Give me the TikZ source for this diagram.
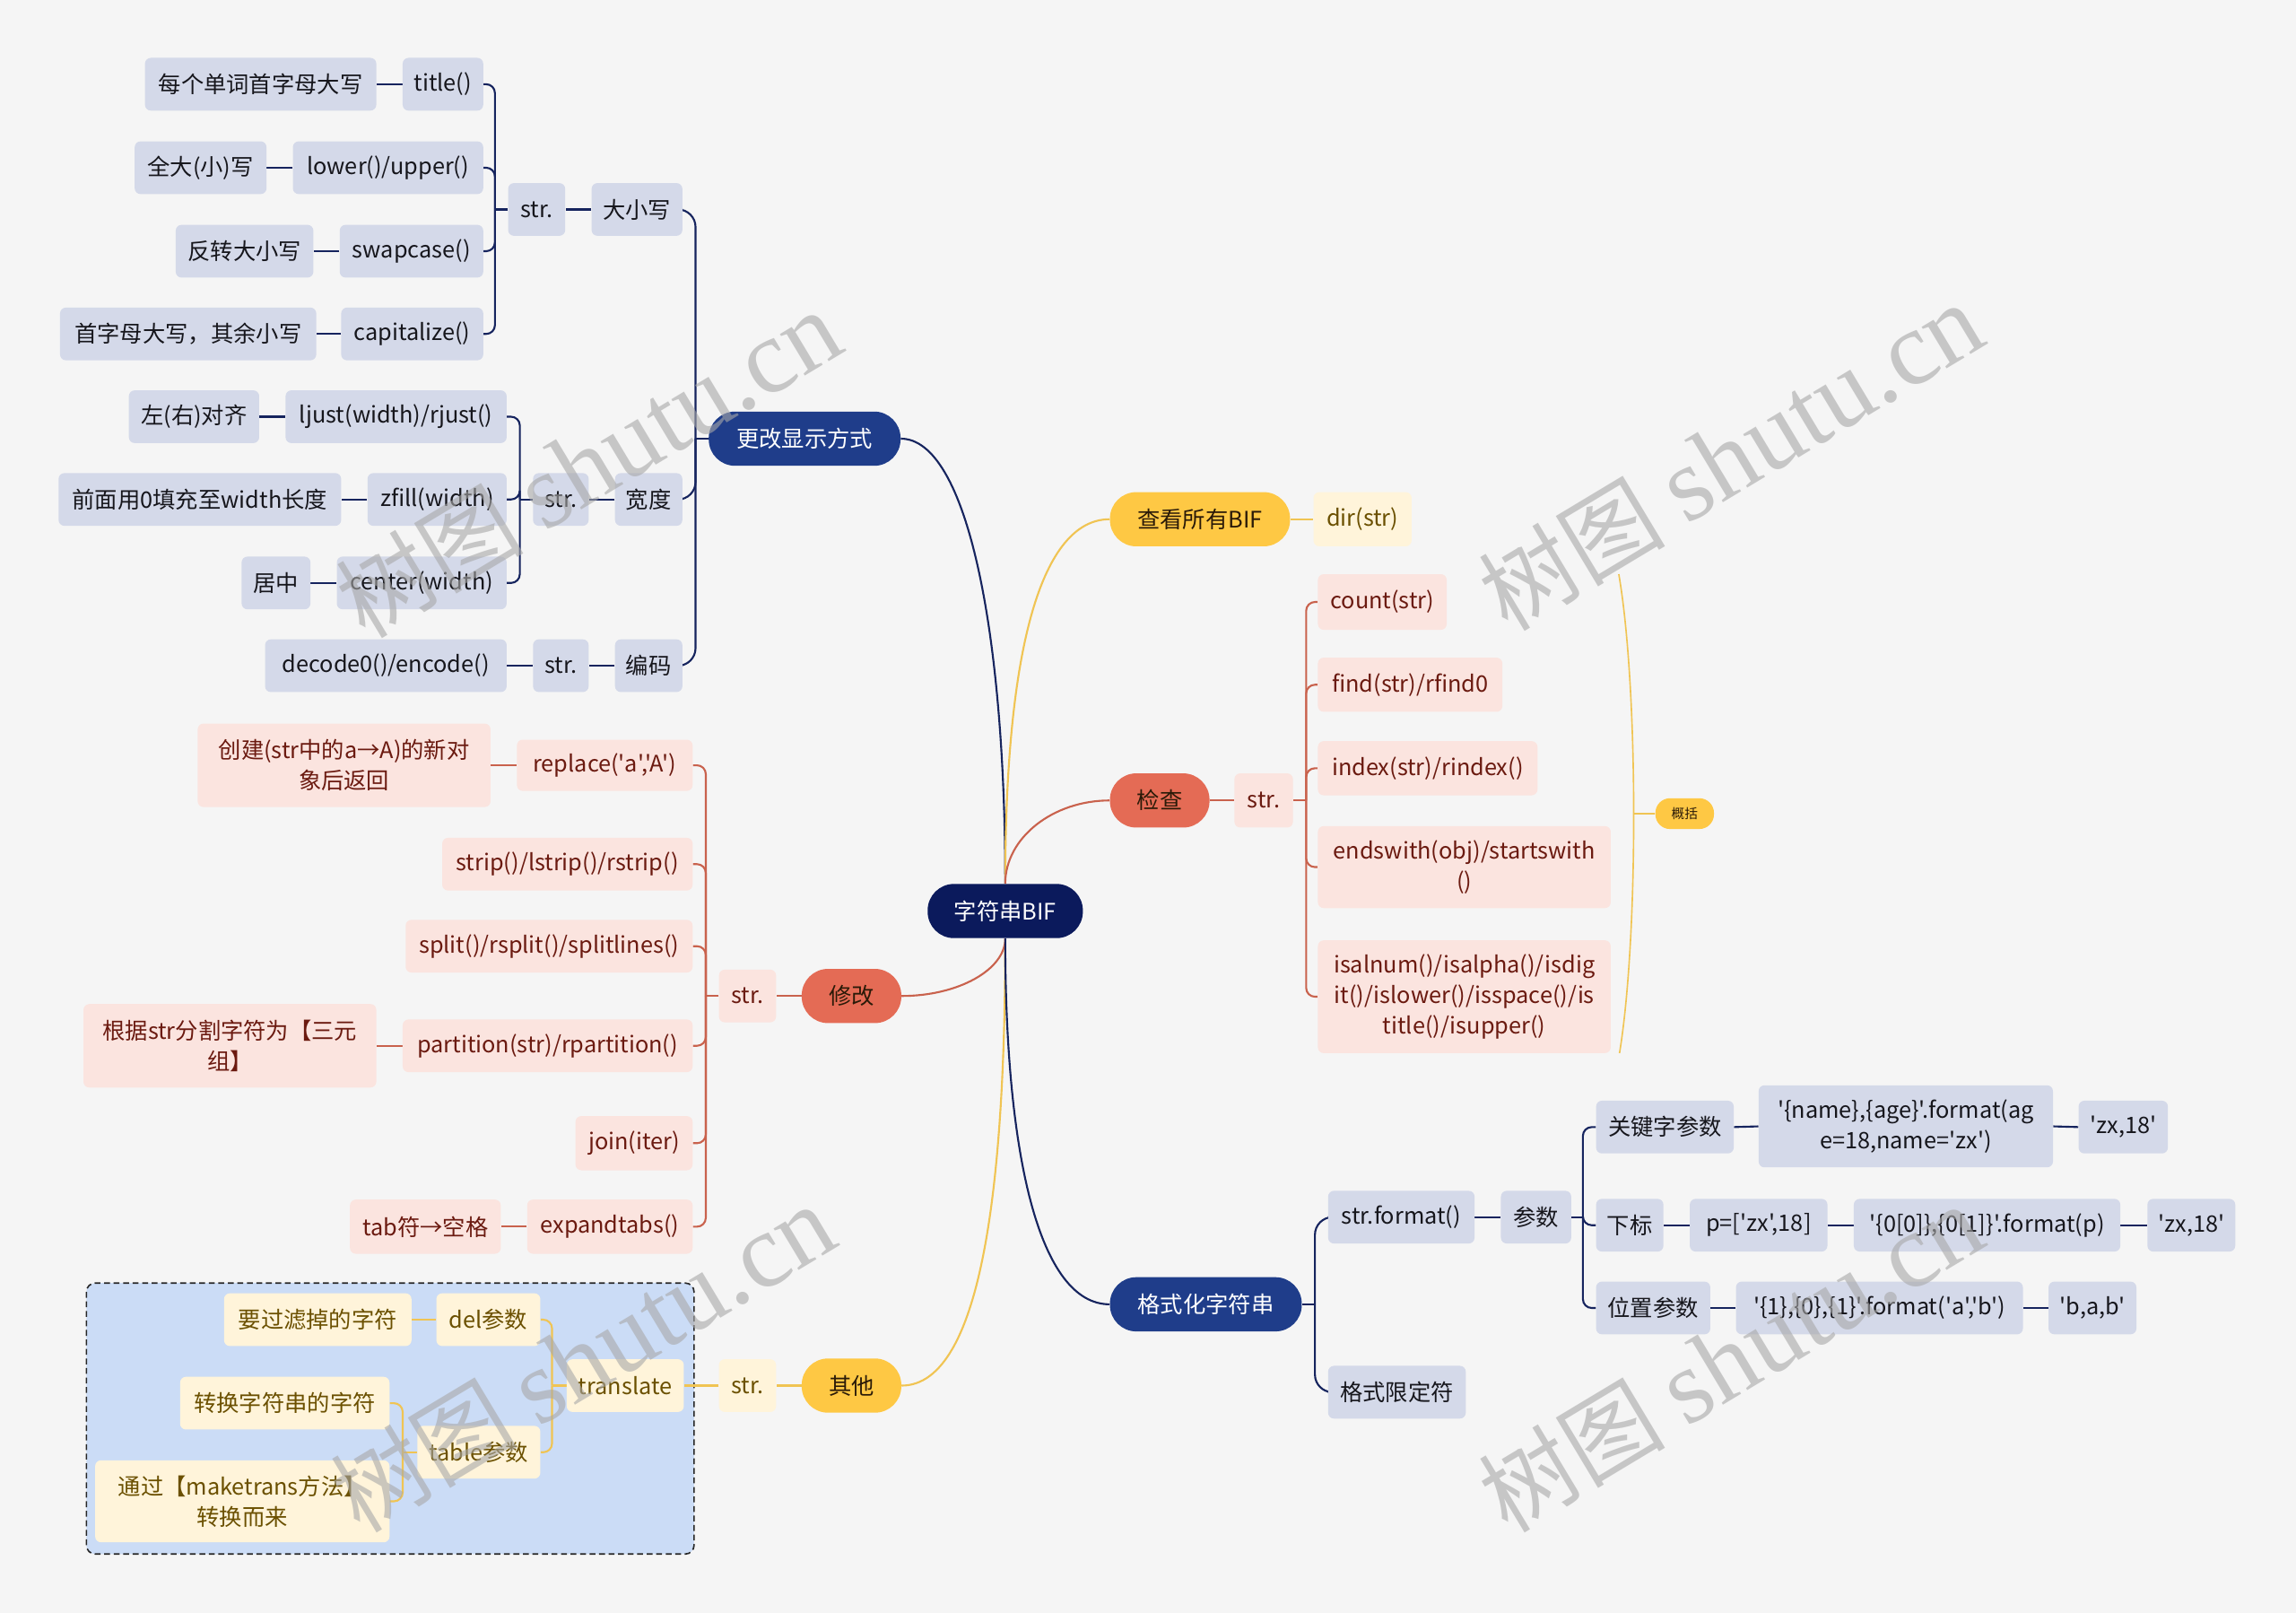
\documentclass[tikz,border=0pt]{standalone}
\usepackage{fontspec}
\newfontfamily\cjk{Noto Sans CJK SC}
\newfontfamily\wmserif{Liberation Serif}
\pgfdeclarelayer{bglayer}
\pgfdeclarelayer{connlayer}
\pgfdeclarelayer{wmlayer}
\pgfsetlayers{bglayer,connlayer,main,wmlayer}
\definecolor{bgc}{HTML}{F5F5F5}
\definecolor{navyln}{HTML}{16245E}
\definecolor{rootc}{HTML}{0B1A5C}
\definecolor{bluepill}{HTML}{1F3D8A}
\definecolor{gbfill}{HTML}{D4D9E9}
\definecolor{gbtext}{HTML}{16161C}
\definecolor{redpill}{HTML}{E46B55}
\definecolor{redln}{HTML}{C9624D}
\definecolor{pkfill}{HTML}{FBE4DF}
\definecolor{pktext}{HTML}{6B1A10}
\definecolor{ylpill}{HTML}{FEC844}
\definecolor{ylln}{HTML}{F0C453}
\definecolor{lyfill}{HTML}{FFF4DA}
\definecolor{lytext}{HTML}{6B5000}
\definecolor{dashfill}{HTML}{CBDCF6}
\definecolor{pilltext}{HTML}{2A1A08}
\definecolor{wmc}{HTML}{A8A8A8}
\tikzset{
  base/.style={rectangle, rounded corners=4pt, inner xsep=0pt, inner ysep=0pt,
    minimum height=36pt, align=center, font=\cjk\fontsize{15.5}{21}\selectfont},
  gb/.style={base, fill=gbfill, text=gbtext},
  pk/.style={base, fill=pkfill, text=pktext},
  ly/.style={base, fill=lyfill, text=lytext},
  pill/.style={rectangle, rounded corners=18pt, minimum height=37pt, inner xsep=0pt,
    inner ysep=0pt, font=\cjk\fontsize{15.5}{18}\selectfont},
  rootpill/.style={pill, fill=rootc, text=white},
  bluep/.style={pill, fill=bluepill, text=white},
  redp/.style={pill, fill=redpill, text=pilltext},
  ylp/.style={pill, fill=ylpill, text=pilltext},
  nl/.style={draw=navyln, line width=1.3pt},
  rl/.style={draw=redln, line width=1.3pt},
  yl/.style={draw=ylln, line width=1.3pt},
  rc/.style={rounded corners=6pt},
  rcb/.style={rounded corners=12pt},
  wm/.style={text=wmc, text opacity=0.6, rotate=31, inner sep=0pt},
}
\begin{document}
\begin{tikzpicture}[x=1pt,y=-1pt]
\begin{pgfonlayer}{bglayer}
\fill[bgc] (0,0) rectangle (1568,1101);
\draw[fill=dashfill, draw=black!85, line width=1pt, dash pattern=on 4pt off 2.5pt, rounded corners=6pt] (59,876) rectangle (474,1061);
\end{pgfonlayer}
\useasboundingbox (0,0) rectangle (1568,1101);

% ---------- root and main branches ----------
\node[rootpill, minimum width=106pt] (root) at (686.5,622) {字符串BIF};
\node[bluep, minimum width=131pt] (gg) at (549.5,299.5) {更改显示方式};
\node[ylp, minimum width=123pt] (ck) at (819.5,354.5) {查看所有BIF};
\node[redp, minimum width=68pt] (jc) at (792,546.5) {检查};
\node[redp, minimum width=68pt] (xg) at (581.5,680) {修改};
\node[ylp, minimum width=68pt] (qt) at (581.5,946) {其他};
\node[bluep, minimum width=131pt] (fs) at (823.5,890.5) {格式化字符串};

% ---------- 更改显示方式 ----------
\node[gb, minimum width=158pt] (w1) at (178,57.5) {每个单词首字母大写};
\node[gb, minimum width=55pt] (t1) at (302.5,57.5) {title()};
\node[gb, minimum width=90pt] (w2) at (137,114.5) {全大(小)写};
\node[gb, minimum width=130pt] (t2) at (265,114.5) {lower()/upper()};
\node[gb, minimum width=94pt] (w3) at (167,171.5) {反转大小写};
\node[gb, minimum width=98pt] (t3) at (281,171.5) {swapcase()};
\node[gb, minimum width=175pt] (w4) at (128.5,228) {首字母大写，其余小写};
\node[gb, minimum width=97pt] (t4) at (281.5,228) {capitalize()};
\node[gb, minimum width=39pt] (s1) at (366.5,143) {str.};
\node[gb, minimum width=62pt] (dx) at (435,143) {大小写};

\node[gb, minimum width=89pt] (w5) at (132.5,284.5) {左(右)对齐};
\node[gb, minimum width=151pt] (t5) at (270.5,284.5) {ljust(width)/rjust()};
\node[gb, minimum width=193pt] (w6) at (136.5,341) {前面用0填充至width长度};
\node[gb, minimum width=95pt] (t6) at (298.5,341) {zfill(width)};
\node[gb, minimum width=38pt] (s2) at (383,341) {str.};
\node[gb, minimum width=46pt] (kd) at (443,341) {宽度};
\node[gb, minimum width=47pt] (w7) at (188.5,398) {居中};
\node[gb, minimum width=116pt] (t7) at (288,398) {center(width)};
\node[gb, minimum width=165pt] (t8) at (263.5,454.5) {decode0()/encode()};
\node[gb, minimum width=38pt] (s3) at (383,454.5) {str.};
\node[gb, minimum width=46pt] (bm) at (443,454.5) {编码};

% ---------- 查看所有BIF ----------
\node[ly, minimum width=67pt, minimum height=37pt] (dirn) at (930.5,354.5) {dir(str)};

% ---------- 检查 ----------
\node[pk, minimum width=40pt, minimum height=37pt] (s4) at (863,546.5) {str.};
\node[pk, minimum width=88pt, minimum height=38pt] (c1) at (944,411) {count(str)};
\node[pk, minimum width=126pt, minimum height=37pt] (c2) at (963,467.5) {find(str)/rfind0};
\node[pk, minimum width=150pt, minimum height=37pt] (c3) at (975,524.5) {index(str)/rindex()};
\node[pk, minimum width=200pt, minimum height=56pt] (c4) at (1000,592) {endswith(obj)/startswith\\()};
\node[pk, minimum width=200pt, minimum height=77pt] (c5) at (1000,680.5) {isalnum()/isalpha()/isdig\\it()/islower()/isspace()/is\\title()/isupper()};
\node[pill, fill=ylpill, text=pilltext, minimum width=40pt, minimum height=21pt, rounded corners=10pt, font=\cjk\fontsize{9}{10}\selectfont] (gk) at (1150.5,555.5) {概括};
\coordinate (sa) at (1105.5,392);
\coordinate (sb) at (1106,719);
\coordinate (sm) at (1115.5,555.5);

% ---------- 修改 ----------
\node[pk, minimum width=39pt] (s5) at (510.5,680) {str.};
\node[pk, minimum width=120pt, minimum height=35pt] (m1) at (413,522.5) {replace('a','A')};
\node[pk, minimum width=200pt, minimum height=57pt] (m1d) at (235,522.5) {创建(str中的a→A)的新对\\象后返回};
\node[pk, minimum width=171pt] (m2) at (387.5,590) {strip()/lstrip()/rstrip()};
\node[pk, minimum width=196pt] (m3) at (375,646) {split()/rsplit()/splitlines()};
\node[pk, minimum width=198pt] (m4) at (374,714) {partition(str)/rpartition()};
\node[pk, minimum width=200pt, minimum height=57pt] (m4d) at (157,714) {根据str分割字符为【三元\\组】};
\node[pk, minimum width=80pt, minimum height=37pt] (m5) at (433,780.5) {join(iter)};
\node[pk, minimum width=113pt, minimum height=37pt] (m6) at (416.5,837.5) {expandtabs()};
\node[pk, minimum width=103pt, minimum height=37pt] (m6d) at (290.5,837.5) {tab符→空格};

% ---------- 其他 ----------
\node[ly, minimum width=39pt] (s6) at (510.5,946) {str.};
\node[ly, minimum width=80pt] (tr) at (427,946) {translate};
\node[ly, minimum width=71pt] (dl) at (333.5,901) {del参数};
\node[ly, minimum width=128pt] (dld) at (217,901) {要过滤掉的字符};
\node[ly, minimum width=84pt] (tb) at (327,991.5) {table参数};
\node[ly, minimum width=143pt] (tbd1) at (194.5,958) {转换字符串的字符};
\node[ly, minimum width=201pt, minimum height=56pt] (tbd2) at (165.5,1025) {通过【maketrans方法】\\转换而来};

% ---------- 格式化字符串 ----------
\node[gb, minimum width=100pt] (f1) at (957,831) {str.format()};
\node[gb, minimum width=94pt] (f2) at (954,950.5) {格式限定符};
\node[gb, minimum width=48pt] (cs) at (1049,831) {参数};
\node[gb, minimum width=94pt] (k1) at (1137,769.5) {关键字参数};
\node[gb, minimum width=201pt, minimum height=56pt] (k2) at (1301.5,769) {'\{name\},\{age\}'.format(ag\\e=18,name='zx')};
\node[gb, minimum width=61pt] (k3) at (1450,769.5) {'zx,18'};
\node[gb, minimum width=46pt] (x1) at (1113,836.5) {下标};
\node[gb, minimum width=94pt] (x2) at (1201,836.5) {p=['zx',18]};
\node[gb, minimum width=182pt] (x3) at (1357,836.5) {'\{0[0]\},\{0[1]\}'.format(p)};
\node[gb, minimum width=60pt] (x4) at (1496.5,836.5) {'zx,18'};
\node[gb, minimum width=78pt] (p1) at (1129,893) {位置参数};
\node[gb, minimum width=196pt] (p2) at (1283.5,893) {'\{1\},\{0\},\{1\}'.format('a','b')};
\node[gb, minimum width=60pt] (p3) at (1429,893) {'b,a,b'};

% ---------- connectors ----------
\begin{pgfonlayer}{connlayer}
% root curves
\draw[nl] (gg.east) .. controls (660,299.5) and (686.5,430) .. (root.north);
\draw[yl] (ck.west) .. controls (715,354.5) and (686.5,430) .. (root.north);
\draw[rl] (jc.west) .. controls (719,546.5) and (686.5,572) .. (root.north);
\draw[rl] (xg.east) .. controls (654.5,680) and (686.5,662) .. (root.south);
\draw[yl] (qt.east) .. controls (672,946) and (686.5,800) .. (root.south);
\draw[nl] (fs.west) .. controls (710,890.5) and (686.5,790) .. (root.south);

% 更改显示方式
\coordinate (j3) at (475,299.5);
\draw[nl] (gg.west) -- (j3);
\foreach \c in {dx,kd,bm} \draw[nl,rcb] (j3) |- (\c.east);
\coordinate (j1) at (338,143);
\draw[nl] (dx.west) -- (s1.east);
\draw[nl] (s1.west) -- (j1);
\foreach \c in {t1,t2,t3,t4} \draw[nl,rc] (j1) |- (\c.east);
\draw[nl] (t1.west) -- (w1.east);
\draw[nl] (t2.west) -- (w2.east);
\draw[nl] (t3.west) -- (w3.east);
\draw[nl] (t4.west) -- (w4.east);
\coordinate (j2) at (355,341);
\draw[nl] (kd.west) -- (s2.east);
\draw[nl] (s2.west) -- (j2);
\foreach \c in {t5,t6,t7} \draw[nl,rc] (j2) |- (\c.east);
\draw[nl] (t5.west) -- (w5.east);
\draw[nl] (t6.west) -- (w6.east);
\draw[nl] (t7.west) -- (w7.east);
\draw[nl] (bm.west) -- (s3.east);
\draw[nl] (s3.west) -- (t8.east);

% 查看所有BIF
\draw[yl] (ck.east) -- (dirn.west);

% 检查
\coordinate (j4) at (892,546.5);
\draw[rl] (jc.east) -- (s4.west);
\draw[rl] (s4.east) -- (j4);
\foreach \c in {c1,c2,c3,c4,c5} \draw[rl,rc] (j4) |- (\c.west);
\draw[yl, line width=1pt] (sa) .. controls (1119,470) and (1119,640) .. (sb);
\draw[yl, line width=1pt] (sm) -- (gk.west);

% 修改
\coordinate (j5) at (482,680);
\draw[rl] (xg.west) -- (s5.east);
\draw[rl] (s5.west) -- (j5);
\foreach \c in {m1,m2,m3,m4,m5,m6} \draw[rl,rc] (j5) |- (\c.east);
\draw[rl] (m1.west) -- (m1d.east);
\draw[rl] (m4.west) -- (m4d.east);
\draw[rl] (m6.west) -- (m6d.east);

% 其他
\coordinate (j6) at (377,946);
\coordinate (j7) at (275,991.5);
\draw[yl] (qt.west) -- (s6.east);
\draw[yl] (s6.west) -- (tr.east);
\draw[yl] (tr.west) -- (j6);
\foreach \c in {dl,tb} \draw[yl,rc] (j6) |- (\c.east);
\draw[yl] (dl.west) -- (dld.east);
\draw[yl] (tb.west) -- (j7);
\foreach \c in {tbd1,tbd2} \draw[yl,rc] (j7) |- (\c.east);

% 格式化字符串
\coordinate (j8) at (898,890.5);
\draw[nl] (fs.east) -- (j8);
\foreach \c in {f1,f2} \draw[nl,rcb] (j8) |- (\c.west);
\draw[nl] (f1.east) -- (cs.west);
\coordinate (j9) at (1081,831);
\draw[nl] (cs.east) -- (j9);
\foreach \c in {k1,x1,p1} \draw[nl,rc] (j9) |- (\c.west);
\draw[nl] (k1.east) -- (k2.west);
\draw[nl] (k2.east) -- (k3.west);
\draw[nl] (x1.east) -- (x2.west);
\draw[nl] (x2.east) -- (x3.west);
\draw[nl] (x3.east) -- (x4.west);
\draw[nl] (p1.east) -- (p2.west);
\draw[nl] (p2.east) -- (p3.west);
\end{pgfonlayer}

% ---------- watermarks ----------
\begin{pgfonlayer}{wmlayer}
\foreach \wx/\wy [count=\i] in {402/317, 1182/312, 398/928, 1182/928}
  \node[wm] (wm\i) at (\wx,\wy) {\cjk\fontsize{64}{70}\selectfont 树图\ \wmserif\fontsize{72}{80}\selectfont shutu.cn};
\end{pgfonlayer}
\end{tikzpicture}
\end{document}
